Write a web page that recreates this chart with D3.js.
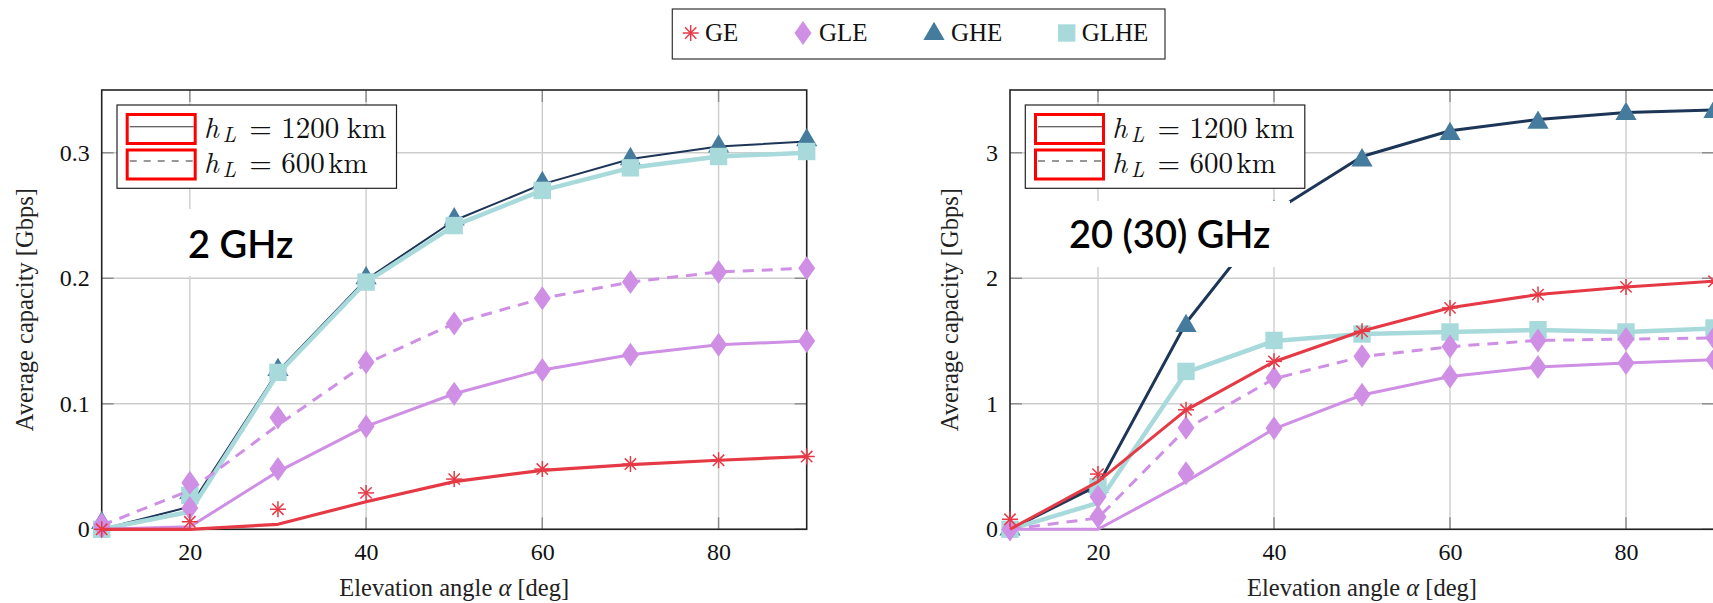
<!DOCTYPE html>
<html><head><meta charset="utf-8">
<script src="https://cdn.jsdelivr.net/npm/d3@7"></script>
<style>
html,body{margin:0;padding:0;background:#fff;}
svg{display:block;}
</style></head><body>
<svg id="chart" width="1713" height="603"></svg>
<script>
// ---------------- data ----------------
const angles = [10, 20, 30, 40, 50, 60, 70, 80, 90];
const xTicks = [20, 40, 60, 80];
const yTicks2GHz = [0, 0.1, 0.2, 0.3];
const yTicks20GHz = [0, 1, 2, 3];
const seriesNames = ["GE", "GLE", "GHE", "GLHE"];
const heightLabels = ["1200", "600"];
const panelTitles = ["2 GHz", "20 (30) GHz"];
const xTitle = "Elevation angle ";
const yTitle = "Average capacity [Gbps]";

// 2 GHz panel (line = analytical curve, marks = simulated points)
const ge2Line    = [0, 0, 0.004, 0.022, 0.038, 0.047, 0.0515, 0.055, 0.058];
const ge2Marks   = [0, 0.006, 0.016, 0.029, 0.040, 0.048, 0.052, 0.055, 0.058];
const gle2Line1200  = [0, 0.002, 0.046, 0.082, 0.108, 0.127, 0.139, 0.147, 0.150];
const gle2Marks1200 = [0.002, 0.017, 0.048, 0.082, 0.108, 0.127, 0.139, 0.147, 0.150];
const gle2Line600   = [0.003, 0.031, 0.083, 0.132, 0.164, 0.184, 0.197, 0.205, 0.208];
const gle2Marks600  = [0.004, 0.037, 0.089, 0.133, 0.164, 0.184, 0.197, 0.205, 0.208];
const ghe2Line   = [0, 0.018, 0.126, 0.199, 0.246, 0.275, 0.295, 0.305, 0.309];
const ghe2Marks  = [0.005, 0.029, 0.127, 0.200, 0.247, 0.276, 0.295, 0.305, 0.310];
const glhe2Line  = [0, 0.014, 0.124, 0.197, 0.242, 0.270, 0.288, 0.297, 0.300];
const glhe2Marks = [0, 0.027, 0.125, 0.197, 0.242, 0.270, 0.288, 0.297, 0.301];

// 20 (30) GHz panel
const ge20Line    = [0, 0.38, 0.95, 1.335, 1.58, 1.765, 1.87, 1.93, 1.976];
const ge20Marks   = [0.08, 0.44, 0.952, 1.338, 1.577, 1.764, 1.87, 1.931, 1.976];
const gle20Line1200  = [0, 0, 0.38, 0.80, 1.07, 1.218, 1.293, 1.325, 1.351];
const gle20Marks1200 = [0, 0.10, 0.447, 0.806, 1.072, 1.218, 1.293, 1.325, 1.351];
const gle20Line600   = [0, 0.09, 0.80, 1.20, 1.375, 1.455, 1.505, 1.515, 1.524];
const gle20Marks600  = [0, 0.26, 0.81, 1.205, 1.378, 1.457, 1.505, 1.516, 1.524];
const ghe20Line   = [0, 0.35, 1.644, 2.53, 2.97, 3.175, 3.265, 3.32, 3.34];
const ghe20Marks  = [0, 0.34, 1.62, 2.53, 2.94, 3.15, 3.24, 3.31, 3.325];
const glhe20Line  = [0, 0.21, 1.25, 1.50, 1.556, 1.572, 1.588, 1.572, 1.60];
const glhe20Marks = [0, 0.34, 1.258, 1.505, 1.556, 1.572, 1.59, 1.572, 1.604];

// ---------------- style ----------------
const C = {
  GE: "#e63946", GLE: "#ce8fe4", GHEmark: "#457b9d", GHEline: "#1d3557", GLHE: "#a8dadc",
  grid: "#cdcdcd", tick: "#8a8a8a"
};
const SERIF = '"Liberation Serif", monospace';
const LM = '"Latin Modern Roman", "Liberation Serif", monospace';
const ANN = '"Lato", "Open Sans", monospace';
const svg = d3.select("#chart");

function marker(g, type, cx, cy, color) {
  if (type === "asterisk") {
    const r = 8;
    for (let k = 0; k < 4; k++) {
      const a = k * Math.PI / 4 + Math.PI / 2;
      g.append("line")
        .attr("x1", cx - r * Math.cos(a)).attr("y1", cy - r * Math.sin(a))
        .attr("x2", cx + r * Math.cos(a)).attr("y2", cy + r * Math.sin(a))
        .attr("stroke", color).attr("stroke-width", 1.5);
    }
  } else if (type === "diamond") {
    g.append("path").attr("d", `M${cx},${cy-12}L${cx+8.5},${cy}L${cx},${cy+12}L${cx-8.5},${cy}Z`).attr("fill", color);
  } else if (type === "triangle") {
    const r = 12.2;
    g.append("path").attr("d", `M${cx},${cy-r}L${cx+r*0.87},${cy+r/2}L${cx-r*0.87},${cy+r/2}Z`).attr("fill", color);
  } else if (type === "square") {
    g.append("rect").attr("x", cx - 8.7).attr("y", cy - 8.7).attr("width", 17.4).attr("height", 17.4).attr("fill", color);
  }
}

const Y0 = 529.3, Y1 = 90;

const panels = [
  { x0: 101.7, x1: 806.7, ymax: 0.35, yTicks: yTicks2GHz, fmt: d => d === 0 ? "0" : d3.format(".1f")(d),
    titleX: 33, title: panelTitles[0],
    ann: { bx: 164, by: 209, bw: 146, bh: 67, tx: 188, ty: 258 },
    series: [
      { line: ghe2Line, marks: ghe2Marks, lc: C.GHEline, mc: C.GHEmark, w: 2, m: "triangle" },
      { line: glhe2Line, marks: glhe2Marks, lc: C.GLHE, mc: C.GLHE, w: 4.5, m: "square" },
      { line: gle2Line600, marks: gle2Marks600, lc: C.GLE, mc: C.GLE, w: 3, m: "diamond", dash: "11,8" },
      { line: gle2Line1200, marks: gle2Marks1200, lc: C.GLE, mc: C.GLE, w: 3, m: "diamond" },
      { line: ge2Line, marks: ge2Marks, lc: C.GE, mc: C.GE, w: 3.2, m: "asterisk" }
    ] },
  { x0: 1010, x1: 1714, ymax: 3.5, yTicks: yTicks20GHz, fmt: d => String(d),
    titleX: 958, title: panelTitles[1],
    ann: { bx: 1046, by: 201, bw: 244, bh: 66, tx: 1069, ty: 248 },
    series: [
      { line: ghe20Line, marks: ghe20Marks, lc: C.GHEline, mc: C.GHEmark, w: 3, m: "triangle" },
      { line: glhe20Line, marks: glhe20Marks, lc: C.GLHE, mc: C.GLHE, w: 4.5, m: "square" },
      { line: gle20Line600, marks: gle20Marks600, lc: C.GLE, mc: C.GLE, w: 3, m: "diamond", dash: "11,8" },
      { line: gle20Line1200, marks: gle20Marks1200, lc: C.GLE, mc: C.GLE, w: 3, m: "diamond" },
      { line: ge20Line, marks: ge20Marks, lc: C.GE, mc: C.GE, w: 3, m: "asterisk" }
    ] }
];

panels.forEach(p => {
  const x = d3.scaleLinear().domain([10, 90]).range([p.x0, p.x1]);
  const y = d3.scaleLinear().domain([0, p.ymax]).range([Y0, Y1]);
  const g = svg.append("g");

  // grid
  g.selectAll(".gx").data(xTicks).enter().append("line")
    .attr("x1", d => x(d)).attr("x2", d => x(d)).attr("y1", y(0)).attr("y2", y(p.ymax))
    .attr("stroke", C.grid).attr("stroke-width", 1.4);
  g.selectAll(".gy").data(p.yTicks).enter().append("line")
    .attr("x1", x(10)).attr("x2", x(90)).attr("y1", d => y(d)).attr("y2", d => y(d))
    .attr("stroke", C.grid).attr("stroke-width", 1.4);
  // inner ticks
  xTicks.forEach(t => {
    g.append("line").attr("x1", x(t)).attr("x2", x(t)).attr("y1", y(0)).attr("y2", y(0) - 12).attr("stroke", C.tick).attr("stroke-width", 1.4);
    g.append("line").attr("x1", x(t)).attr("x2", x(t)).attr("y1", y(p.ymax)).attr("y2", y(p.ymax) + 12).attr("stroke", C.tick).attr("stroke-width", 1.4);
  });
  p.yTicks.forEach(t => {
    g.append("line").attr("x1", x(10)).attr("x2", x(10) + 12).attr("y1", y(t)).attr("y2", y(t)).attr("stroke", C.tick).attr("stroke-width", 1.4);
    g.append("line").attr("x1", x(90) - 12).attr("x2", x(90)).attr("y1", y(t)).attr("y2", y(t)).attr("stroke", C.tick).attr("stroke-width", 1.4);
  });
  // frame
  g.append("rect").attr("x", x(10)).attr("y", y(p.ymax)).attr("width", x(90) - x(10)).attr("height", y(0) - y(p.ymax))
    .attr("fill", "none").attr("stroke", "#222").attr("stroke-width", 1.6);

  // axes labels
  const ax = g.append("g").attr("transform", `translate(0,${y(0)})`)
    .call(d3.axisBottom(x).tickValues(xTicks).tickSize(0).tickPadding(14).tickFormat(d3.format("d")));
  const ay = g.append("g").attr("transform", `translate(${x(10)},0)`)
    .call(d3.axisLeft(y).tickValues(p.yTicks).tickSize(0).tickPadding(12).tickFormat(p.fmt));
  [ax, ay].forEach(a => {
    a.select(".domain").remove();
    a.attr("font-family", null).attr("font-size", null);
    a.selectAll("text").style("font-family", SERIF).style("font-size", "24px").attr("fill", "#111");
  });

  // axis titles
  const xt = g.append("text").attr("x", (x(10) + x(90)) / 2).attr("y", 596)
    .attr("text-anchor", "middle").style("font-family", SERIF).style("font-size", "24.5px").attr("fill", "#222");
  xt.append("tspan").text(xTitle);
  xt.append("tspan").style("font-family", LM).style("font-style", "italic").text("α");
  xt.append("tspan").text(" [deg]");
  g.append("text").attr("transform", `translate(${p.titleX},${(y(0) + y(p.ymax)) / 2}) rotate(-90)`)
    .attr("text-anchor", "middle").style("font-family", SERIF).style("font-size", "24.5px").attr("fill", "#222")
    .text(yTitle);

  // series
  const lineGen = d3.line().x((d, i) => x(angles[i])).y(d => y(d));
  p.series.forEach(s => {
    g.append("path").attr("d", lineGen(s.line)).attr("fill", "none")
      .attr("stroke", s.lc).attr("stroke-width", s.w).attr("stroke-linejoin", "round")
      .attr("stroke-dasharray", s.dash || null);
    s.marks.forEach((v, i) => marker(g, s.m, x(angles[i]), y(v), s.mc));
  });

  // annotation box
  g.append("rect").attr("x", p.ann.bx).attr("y", p.ann.by).attr("width", p.ann.bw).attr("height", p.ann.bh).attr("fill", "#fff");
  g.append("text").attr("x", p.ann.tx).attr("y", p.ann.ty)
    .style("font-family", ANN).style("font-size", "38px").style("font-weight", 600).attr("fill", "#000").text(p.title);

  // inner legend
  const L = g.append("g").attr("transform", `translate(${p.x0},0)`);
  L.append("rect").attr("x", 15.3).attr("y", 105).attr("width", 279.5).attr("height", 83.3)
    .attr("fill", "#fff").attr("stroke", "#222").attr("stroke-width", 1.2);
  [0, 1].forEach(k => {
    const yy = [126.7, 161][k];
    L.append("line").attr("x1", 28).attr("x2", 92).attr("y1", yy).attr("y2", yy)
      .attr("stroke", "#333").attr("stroke-width", 1.1).attr("stroke-dasharray", k ? "7,7" : null);
    L.append("rect").attr("x", 25.5).attr("y", [114.5, 150][k]).attr("width", 68).attr("height", 29)
      .attr("fill", "none").attr("stroke", "#ff0000").attr("stroke-width", 3);
    const t = L.append("text").attr("x", 102.3).attr("y", [138.3, 172.7][k])
      .style("font-family", LM).style("font-size", "29px").attr("fill", "#111");
    t.append("tspan").style("font-style", "italic").text("h");
    t.append("tspan").style("font-style", "italic").style("font-size", "21px").attr("x", 121).attr("dy", 4).text("L");
    t.append("tspan").attr("x", 147.5).attr("dy", -4).text("=");
    t.append("tspan").attr("x", 179.5).text(heightLabels[k]);
    t.append("tspan").attr("x", k ? 226.5 : 245).text("km");
  });
});

// top legend
const TL = svg.append("g");
TL.append("rect").attr("x", 672.3).attr("y", 9).attr("width", 492.7).attr("height", 50)
  .attr("fill", "#fff").attr("stroke", "#333").attr("stroke-width", 1.2);
const legendItems = [
  { name: seriesNames[0], m: "asterisk", c: C.GE, mx: 690.7, tx: 705 },
  { name: seriesNames[1], m: "diamond", c: C.GLE, mx: 803, tx: 819 },
  { name: seriesNames[2], m: "triangle", c: C.GHEmark, mx: 934, tx: 951 },
  { name: seriesNames[3], m: "square", c: C.GLHE, mx: 1066.7, tx: 1081.7 }
];
legendItems.forEach(it => {
  marker(TL, it.m, it.mx, it.m === "triangle" ? 34 : 33, it.c);
  TL.append("text").attr("x", it.tx).attr("y", 41).style("font-family", SERIF).style("font-size", "25px")
    .attr("fill", "#111").text(it.name);
});
</script>
</body></html>
